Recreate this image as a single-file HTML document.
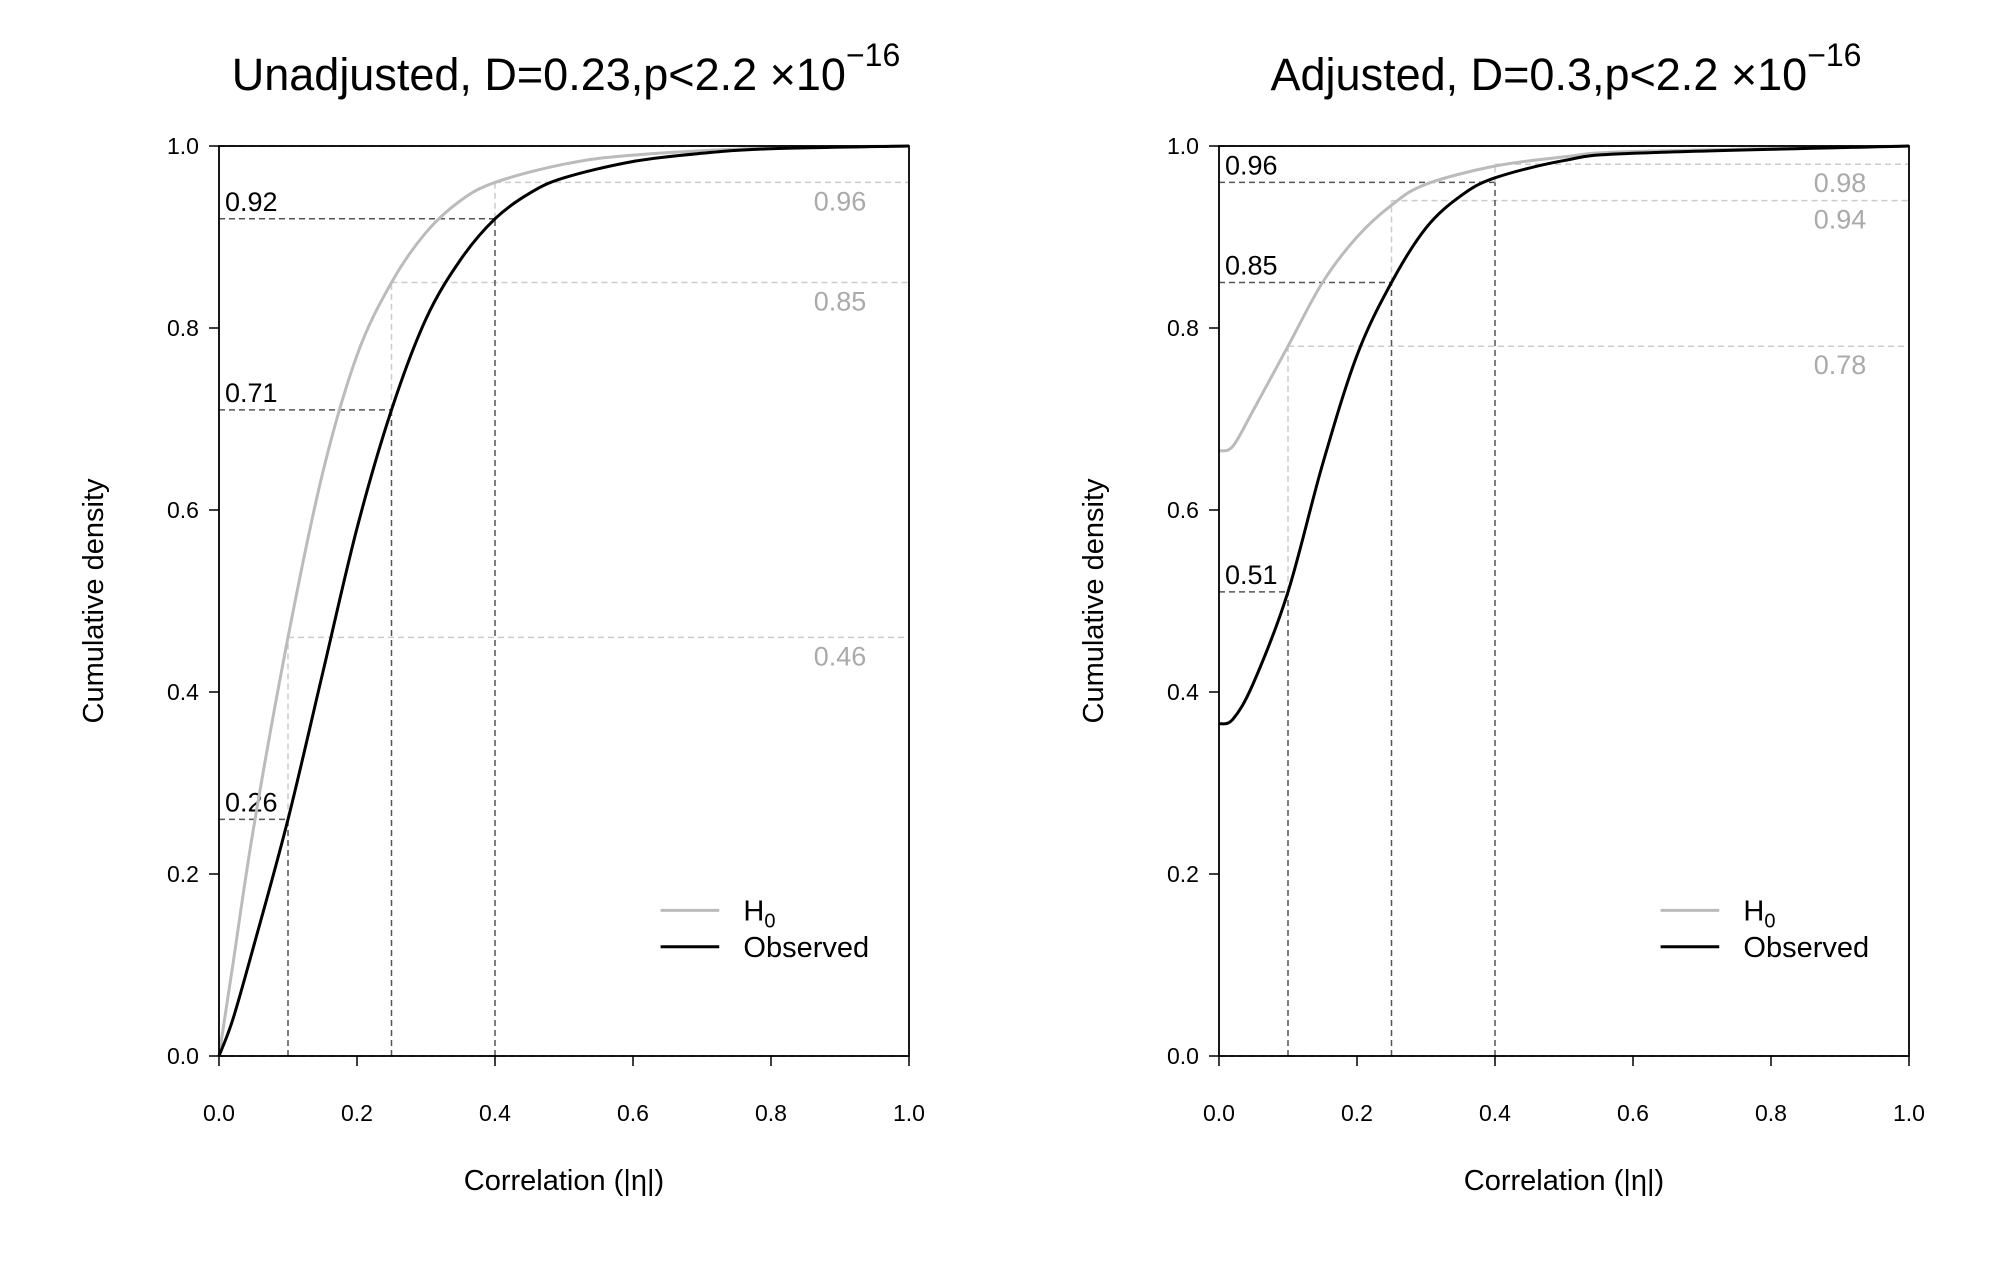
<!DOCTYPE html>
<html><head><meta charset="utf-8">
<style>
html,body{margin:0;padding:0;background:#fff;}
svg{display:block;font-family:"Liberation Sans",sans-serif;}
</style></head>
<body>
<svg id="chart" width="2000" height="1273" viewBox="0 0 2000 1273" xmlns="http://www.w3.org/2000/svg"></svg>
<script>
const xTicks = [0, 0.2, 0.4, 0.6, 0.8, 1.0];
const yTicks = [0, 0.2, 0.4, 0.6, 0.8, 1.0];
const cutoffs = [0.1, 0.25, 0.4];
const leftTitle = "Unadjusted, D=0.23,p<2.2 ×10";
const rightTitle = "Adjusted, D=0.3,p<2.2 ×10";
const leftH0x = [0, 0.02, 0.05, 0.1, 0.15, 0.2, 0.25, 0.3, 0.35, 0.4, 0.5, 0.6, 0.8, 1];
const leftH0y = [0, 0.1, 0.25, 0.46, 0.64, 0.77, 0.85, 0.905, 0.94, 0.96, 0.98, 0.99, 0.998, 1];
const leftObsx = [0, 0.02, 0.05, 0.1, 0.15, 0.2, 0.25, 0.3, 0.35, 0.4, 0.45, 0.5, 0.6, 0.7, 0.8, 1];
const leftObsy = [0, 0.04, 0.12, 0.26, 0.42, 0.58, 0.71, 0.81, 0.875, 0.92, 0.948, 0.965, 0.983, 0.992, 0.997, 1];
const rightH0x = [0, 0.02, 0.05, 0.1, 0.15, 0.2, 0.25, 0.3, 0.4, 0.5, 0.6, 1];
const rightH0y = [0.665, 0.67, 0.71, 0.78, 0.85, 0.90, 0.935, 0.958, 0.978, 0.988, 0.994, 1];
const rightObsx = [0, 0.02, 0.05, 0.1, 0.15, 0.2, 0.25, 0.3, 0.35, 0.4, 0.5, 0.6, 1];
const rightObsy = [0.365, 0.37, 0.41, 0.51, 0.65, 0.77, 0.85, 0.91, 0.945, 0.965, 0.984, 0.992, 1];
const leftObsMarks = [0.26, 0.71, 0.92];
const leftH0Marks = [0.46, 0.85, 0.96];
const rightObsMarks = [0.51, 0.85, 0.96];
const rightH0Marks = [0.78, 0.94, 0.98];

const NS = "http://www.w3.org/2000/svg";
const svg = document.getElementById('chart');
function mk(tag, attrs, parent, text){
  const e = document.createElementNS(NS, tag);
  for (const k in attrs) e.setAttribute(k, attrs[k]);
  if (text !== undefined) e.textContent = text;
  (parent||svg).appendChild(e);
  return e;
}
function smoothPath(pts){
  let d = `M${pts[0][0]},${pts[0][1]}`;
  for (let i=0;i<pts.length-1;i++){
    const p0=pts[Math.max(0,i-1)], p1=pts[i], p2=pts[i+1], p3=pts[Math.min(pts.length-1,i+2)];
    const c1x=p1[0]+(p2[0]-p0[0])/6, c1y=p1[1]+(p2[1]-p0[1])/6;
    const c2x=p2[0]-(p3[0]-p1[0])/6, c2y=p2[1]-(p3[1]-p1[1])/6;
    d += ` C${c1x},${c1y} ${c2x},${c2y} ${p2[0]},${p2[1]}`;
  }
  return d;
}
function panel(name, x0, x1, y0, y1, title, h0x, h0y, obsx, obsy, obsMarks, h0Marks){
  const g = mk('g', {});
  
  
  const sx = v => x0 + (x1-x0)*v;
  const sy = v => y0 - (y0-y1)*v;
  const t = mk('text', {x:(x0+x1)/2 + 2, y:90, 'font-size':45, 'text-anchor':'middle'}, g);
  
  
  mk('tspan', {}, t, title);
  mk('tspan', {dy:-24, 'font-size':32}, t, '−16');
  [0,1].forEach(v=>{
    const l = mk('line',{x1:sx(0),x2:sx(1),y1:sy(v),y2:sy(v),stroke:'#555','stroke-width':1.5,'stroke-dasharray':'6,4'},g);
    
    
  });
  cutoffs.forEach((c,i)=>{
    const ob = obsMarks[i], h = h0Marks[i];
    const hl = mk('line',{x1:sx(0),x2:sx(c),y1:sy(ob),y2:sy(ob),stroke:'#555','stroke-width':1.5,'stroke-dasharray':'6,4'},g);
    
    
    const vl = mk('line',{x1:sx(c),x2:sx(c),y1:sy(0),y2:sy(ob),stroke:'#555','stroke-width':1.5,'stroke-dasharray':'6,4'},g);
    
    
    const gh = mk('line',{x1:sx(c),x2:sx(1),y1:sy(h),y2:sy(h),stroke:'#ccc','stroke-width':1.5,'stroke-dasharray':'6,4'},g);
    
    
    const gv = mk('line',{x1:sx(c),x2:sx(c),y1:sy(ob),y2:sy(h),stroke:'#ccc','stroke-width':1.5,'stroke-dasharray':'6,4'},g);
    
    
    const bl = mk('text',{x:sx(0)+6,y:sy(ob)-8,'font-size':27},g,ob.toFixed(2));
    
    
    const gl = mk('text',{x:sx(0.9),y:sy(h)+28,'font-size':27,'text-anchor':'middle',fill:'#aaa'},g,h.toFixed(2));
    
    
  });
  const hp = mk('path',{d:smoothPath(h0x.map((v,i)=>[sx(v),sy(h0y[i])])),fill:'none',stroke:'#bbb','stroke-width':3},g);
  
  
  const op = mk('path',{d:smoothPath(obsx.map((v,i)=>[sx(v),sy(obsy[i])])),fill:'none',stroke:'#000','stroke-width':3},g);
  
  
  const box = mk('rect',{x:x0,y:y1,width:x1-x0,height:y0-y1,fill:'none',stroke:'#000','stroke-width':1.8},g);
  
  
  xTicks.forEach(v=>{
    const tk = mk('line',{x1:sx(v),x2:sx(v),y1:y0,y2:y0+10,stroke:'#000','stroke-width':1.5},g);
    
    
    const tl = mk('text',{x:sx(v),y:y0+65,'font-size':23,'text-anchor':'middle'},g,v.toFixed(1));
    
    
  });
  yTicks.forEach(v=>{
    const tk = mk('line',{x1:x0-10,x2:x0,y1:sy(v),y2:sy(v),stroke:'#000','stroke-width':1.5},g);
    
    
    const tl = mk('text',{x:x0-36,y:sy(v)+8,'font-size':23,'text-anchor':'middle'},g,v.toFixed(1));
    
    
  });
  const xt = mk('text',{x:(x0+x1)/2,y:1190,'font-size':29,'text-anchor':'middle'},g,'Correlation (|η|)');
  
  
  const yt = mk('text',{x:0,y:0,'font-size':29,'text-anchor':'middle',transform:`translate(${x0-116},${(y0+y1)/2}) rotate(-90)`},g,'Cumulative density');
  
  
  const lg = mk('g',{},g);
  
  
  mk('line',{x1:sx(0.64),x2:sx(0.725),y1:sy(0.16),y2:sy(0.16),stroke:'#bbb','stroke-width':3},lg);
  const l1 = mk('text',{x:sx(0.76),y:sy(0.16)+10,'font-size':29},lg);
  
  
  mk('tspan',{},l1,'H');
  mk('tspan',{dy:7,'font-size':20},l1,'0');
  mk('line',{x1:sx(0.64),x2:sx(0.725),y1:sy(0.12),y2:sy(0.12),stroke:'#000','stroke-width':3},lg);
  const l2 = mk('text',{x:sx(0.76),y:sy(0.12)+10,'font-size':29},lg,'Observed');
  
  
}
panel('unadjusted-panel', 219, 909, 1056, 146, leftTitle, leftH0x, leftH0y, leftObsx, leftObsy, leftObsMarks, leftH0Marks);
panel('adjusted-panel', 1219, 1909, 1056, 146, rightTitle, rightH0x, rightH0y, rightObsx, rightObsy, rightObsMarks, rightH0Marks);
</script>
</body></html>
